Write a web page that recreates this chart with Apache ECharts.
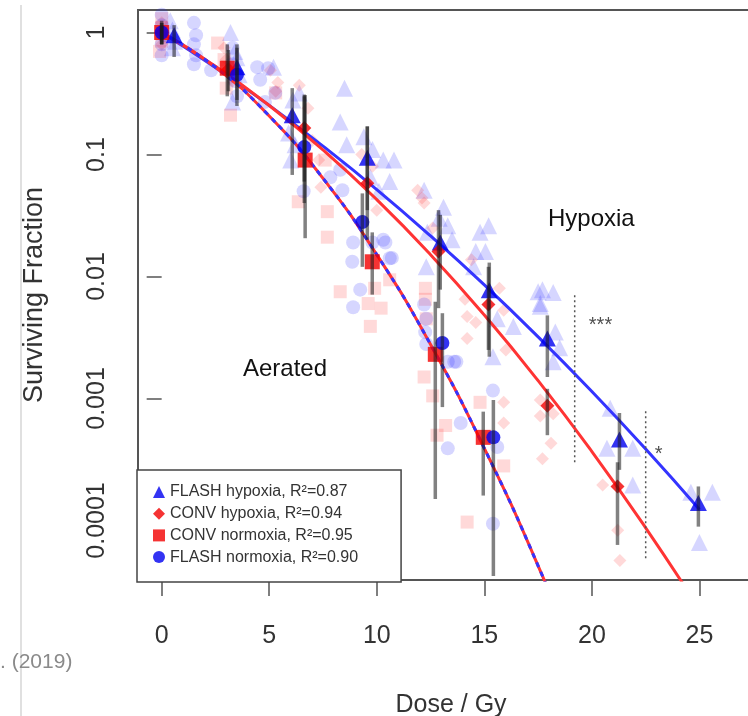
<!DOCTYPE html>
<html>
<head>
<meta charset="utf-8">
<script src="https://cdn.jsdelivr.net/npm/echarts@6/dist/echarts.min.js"></script>
<style>html,body{margin:0;padding:0;background:#fff}#c{width:748px;height:716px}</style>
</head>
<body>
<div id="c"></div>
<script>
const FONT = "'Liberation Sans', Arial, Helvetica, sans-serif";

// axis ticks
const xTicks = [0, 5, 10, 15, 20, 25];
const yTicks = [0.0001, 0.001, 0.01, 0.1, 1];
const yTickLabels = ['0.0001', '0.001', '0.01', '0.1', '1'];

// legend names
const names = ['FLASH hypoxia, R\u00b2=0.87', 'CONV hypoxia, R\u00b2=0.94', 'CONV normoxia, R\u00b2=0.95', 'FLASH normoxia, R\u00b2=0.90'];

// group means with error bars
const fhX  = [0.58, 3.5, 6.07, 9.56, 12.95, 15.23, 17.93, 21.28, 24.95];
const fhY  = [0.95, 0.52, 0.21, 0.094, 0.019, 0.0077, 0.0031, 0.00046, 0.000139];
const fhLo = [0.63, 0.28, 0.068, 0.035, 0.0078, 0.0022, 0.0015, 0.00026, 0.000089];
const fhHi = [1.15, 0.8, 0.35, 0.17, 0.032, 0.013, 0.0048, 0.00076, 0.00019];

const chX  = [0, 3.1, 6.63, 9.56, 12.87, 15.19, 17.93, 21.19];
const chY  = [1.0, 0.5, 0.165, 0.058, 0.016, 0.0059, 0.00087, 0.00019];
const chLo = [0.8, 0.33, 0.06, 0.02, 0.0055, 0.0025, 0.0005, 0.000063];
const chHi = [1.2, 0.72, 0.31, 0.17, 0.035, 0.012, 0.0012, 0.0003];

const cnX  = [0, 3.05, 6.67, 9.79, 12.72, 14.95];
const cnY  = [1.0, 0.51, 0.09, 0.0132, 0.0023, 0.00048];
const cnLo = [0.8, 0.3, 0.0206, 0.0071, 0.00015, 0.00016];
const cnHi = [1.25, 0.8, 0.307, 0.023, 0.0062, 0.00078];

const fnX  = [0, 3.5, 6.63, 9.33, 13.05, 15.42];
const fnY  = [1.0, 0.45, 0.115, 0.028, 0.00285, 0.00048];
const fnLo = [0.8, 0.25, 0.04, 0.012, 0.00085, 0.000035];
const fnHi = [1.2, 0.75, 0.3, 0.048, 0.005, 0.00097];

// fitted curves
const fitDose     = [0, 2.5, 5, 7.5, 10, 12.5, 15, 17.5, 20, 22.5, 25];
const fitFlashHyp = [1, 0.516, 0.253, 0.117, 0.0516, 0.0215, 0.00853, 0.0032, 0.00114, 0.000385, 0.000123];
const fitConvHyp  = [1, 0.528, 0.252, 0.109, 0.0427, 0.0151, 0.00483, 0.0014, 0.000367, 0.000087, 0.0000187];
const fitNormDose = [0, 2.5, 5, 7.5, 10, 12.5, 15, 17.5, 20];
const fitNormoxia = [1, 0.519, 0.207, 0.0638, 0.0151, 0.00277, 0.00039, 0.0000425, 0.00000356];

// individual replicates [dose, surviving fraction]
const repFlashHyp = [
  [0.4,1.25],[0.5,1.05],[0.6,0.85],[0.5,0.75],
  [3.2,1.0],[3.4,0.7],[3.5,0.62],[3.6,0.45],[3.3,0.27],
  [5.2,0.52],
  [6.1,0.28],[6.4,0.32],[5.9,0.15],[6.2,0.12],[6.0,0.09],
  [8.5,0.35],[8.3,0.185],[8.6,0.12],[9.4,0.14],[9.8,0.11],[10.3,0.09],[10.8,0.09],[10.6,0.06],[9.7,0.065],[10.1,0.05],
  [12.2,0.051],[12.35,0.023],[13.1,0.037],[13.5,0.02],[13.3,0.026],[12.3,0.012],[12.9,0.03],
  [14.8,0.023],[15.05,0.016],[14.5,0.012],[15.2,0.026],[14.6,0.016],[15.4,0.0022],[15.6,0.0045],[16.35,0.0039],
  [17.5,0.0075],[18.2,0.0074],[17.7,0.0078],[17.6,0.006],[18.2,0.002],[18.5,0.0026],[18.3,0.0035],[17.6,0.0057],
  [20.85,0.00083],[20.7,0.00039],[21.9,0.00039],[21.9,0.000195],
  [24.6,0.00017],[25.6,0.00017],[25.0,0.000066]
];
const repConvHyp = [
  [0,1.2],[0.1,0.9],[0,0.8],
  [2.9,0.75],[3.0,0.6],[3.3,0.4],
  [5.05,0.49],[5.3,0.33],[5.4,0.39],
  [6.4,0.37],[6.8,0.24],[7.0,0.13],[7.3,0.09],[7.4,0.054],
  [9.3,0.1],[9.8,0.08],[10.0,0.035],
  [11.9,0.051],[12.1,0.044],[12.2,0.04],[12.6,0.025],
  [14.4,0.0137],[14.1,0.0065],[14.6,0.0042],[14.2,0.0047],[14.2,0.0031],[15.7,0.008],[15.9,0.0053],[16.0,0.0025],[15.9,0.00093],[15.9,0.00063],
  [17.6,0.00097],[18.2,0.00075],[17.6,0.00072],[18.1,0.00043],[17.7,0.00032],
  [20.5,0.000195],[21.2,0.000083],[21.3,0.000047]
];
const repConvNorm = [
  [0,1.3],[0,1.1],[0,0.85],[-0.1,0.7],
  [2.6,0.82],[2.9,0.6],[3.0,0.35],[3.2,0.21],
  [5.3,0.32],
  [7.6,0.09],[6.35,0.041],[7.7,0.034],[7.7,0.021],
  [8.3,0.0075],[9.6,0.006],[9.7,0.0039],[9.9,0.008],[10.2,0.0055],[10.6,0.0094],
  [12.26,0.008],[12.26,0.0065],[12.3,0.0045],[12.2,0.0015],[12.6,0.00105],[13.2,0.0006],[12.8,0.0005],
  [14.8,0.00093],[15.9,0.00028],[14.2,0.000097]
];
const repFlashNorm = [
  [0,1.4],[0,1.15],[0.1,0.95],[0,0.8],[0,0.65],
  [1.5,1.2],[1.6,0.95],[1.5,0.8],[1.6,0.65],[1.5,0.55],
  [2.3,0.49],
  [3.3,0.75],[3.3,0.55],[3.4,0.4],[3.5,0.3],
  [4.44,0.52],[4.58,0.41],[4.95,0.51],[5.28,0.32],[4.8,0.27],
  [6.6,0.05],[7.84,0.065],[8.3,0.075],[8.4,0.051],
  [8.9,0.019],[9.8,0.019],[10.3,0.02],[10.7,0.0142],[8.86,0.0132],[9.23,0.0078],[8.9,0.0056],[10.6,0.0141],[10.4,0.019],
  [12.2,0.0059],[12.3,0.0045],[12.25,0.0035],[12.3,0.0028],[13.6,0.002],[13.3,0.002],[13.7,0.002],[13.9,0.00063],[13.3,0.00039],
  [15.4,0.00116],[15.6,0.0004],[15.4,0.000094]
];

// significance markers: [dose, low, high]
const sigLines = [[19.2, 0.0003, 0.0071], [22.5, 0.000049, 0.00079]];
const sigStars = [[20.4, 0.0040, '***'], [23.1, 0.00035, '*']];

const BLUE = '#0000f0', RED = '#f20000';
const BLUE_F = 'rgba(40,40,255,0.24)', RED_F = 'rgba(255,40,40,0.22)';

const pairs = (xs, ys) => xs.map((x, i) => [x, ys[i]]);
const bars = (xs, lo, hi) => xs.map((x, i) => [x, lo[i], hi[i]]);

function rep(name, data, symbol, size, color) {
  return { type: 'scatter', name, data, symbol, symbolSize: size, itemStyle: { color }, z: 1, silent: true };
}
function fit(name, xs, ys, color, extra) {
  return Object.assign({ type: 'line', name, data: pairs(xs, ys), smooth: true, showSymbol: false, symbol: 'none',
    lineStyle: { color, width: 3 }, z: 2, silent: true, clip: true }, extra || {});
}
function mean(name, xs, ys, symbol, size, color) {
  return { type: 'scatter', name, data: pairs(xs, ys), symbol, symbolSize: size, itemStyle: { color }, z: 3 };
}

const barData = [].concat(bars(fhX, fhLo, fhHi), bars(chX, chLo, chHi), bars(cnX, cnLo, cnHi), bars(fnX, fnLo, fnHi));

const chart = echarts.init(document.getElementById('c'), null, { renderer: 'canvas' });
chart.setOption({
  animation: false,
  backgroundColor: '#fff',
  textStyle: { fontFamily: FONT },
  grid: { left: 138, top: 10, width: 626, height: 570, show: true, borderColor: '#555', borderWidth: 2,
    backgroundColor: 'transparent', outerBoundsMode: 'none', containLabel: false },
  xAxis: {
    type: 'value', min: -1.1, max: 28,
    axisLine: { show: false }, splitLine: { show: false },
    axisTick: { show: true, customValues: xTicks, length: 16, lineStyle: { color: '#555', width: 1.5 } },
    axisLabel: { customValues: xTicks, fontSize: 25, color: '#333', margin: 44, fontFamily: FONT },
    name: 'Dose / Gy', nameLocation: 'middle', nameGap: 113,
    nameTextStyle: { fontSize: 25, color: '#333', fontFamily: FONT }
  },
  yAxis: {
    type: 'log', logBase: 10, min: 3.25e-5, max: 1.53,
    axisLine: { show: false }, splitLine: { show: false }, minorTick: { show: false },
    axisTick: { show: true, customValues: yTicks, length: 15, lineStyle: { color: '#555', width: 1.5 } },
    axisLabel: { customValues: yTicks, rotate: 90, fontSize: 25, color: '#333', margin: 28, fontFamily: FONT,
      formatter: v => { const i = yTicks.findIndex(t => Math.abs(Math.log10(t) - Math.log10(v)) < 1e-6); return i >= 0 ? yTickLabels[i] : ''; } },
    name: 'Surviving Fraction', nameLocation: 'middle', nameRotate: 90, nameGap: 90,
    nameTextStyle: { fontSize: 27, color: '#333', fontFamily: FONT }
  },
  legend: {
    orient: 'vertical', left: 137, top: 470,
    backgroundColor: '#fff', borderColor: '#444', borderWidth: 1.5,
    padding: [14, 43, 17, 16], itemWidth: 12, itemHeight: 12, itemGap: 5.7,
    textStyle: { fontSize: 16, color: '#333', fontFamily: FONT },
    selectedMode: false, z: 20,
    data: [
      { name: names[0], icon: 'triangle' },
      { name: names[1], icon: 'diamond' },
      { name: names[2], icon: 'rect' },
      { name: names[3], icon: 'circle' }
    ]
  },
  graphic: [
    { type: 'line', shape: { x1: 21, y1: 5, x2: 21, y2: 716 }, style: { stroke: '#d6d6d6', lineWidth: 1.5 }, z: 0 },
    { type: 'text', left: 548, top: 207, style: { text: 'Hypoxia', font: '24px ' + FONT, fill: '#111' } },
    { type: 'text', left: 243, top: 357, style: { text: 'Aerated', font: '24px ' + FONT, fill: '#111' } },
    { type: 'text', left: 0, top: 652, style: { text: '. (2019)', font: '21px ' + FONT, fill: '#8a8a8a' } }
  ],
  series: [
    rep('rFH', repFlashHyp, 'triangle', 17, BLUE_F),
    rep('rCH', repConvHyp, 'diamond', 13, RED_F),
    rep('rCN', repConvNorm, 'rect', 13, RED_F),
    rep('rFN', repFlashNorm, 'circle', 14, BLUE_F),
    fit('fFH', fitDose, fitFlashHyp, '#3434ff'),
    fit('fCH', fitDose, fitConvHyp, '#ff3434'),
    fit('fN1', fitNormDose, fitNormoxia, '#ff3434'),
    fit('fN2', fitNormDose, fitNormoxia, '#3434ff', { lineStyle: { color: '#3434ff', width: 3, type: [5, 5] } }),
    mean(names[0], fhX, fhY, 'triangle', [17, 16], BLUE),
    mean(names[1], chX, chY, 'diamond', 14, RED),
    mean(names[2], cnX, cnY, 'rect', 15, RED),
    mean(names[3], fnX, fnY, 'circle', 14, BLUE),
    {
      type: 'custom', name: 'errbars', data: barData, encode: { x: 0, y: [1, 2] }, z: 4, silent: true, clip: true,
      renderItem: (params, api) => {
        const a = api.coord([api.value(0), api.value(1)]);
        const b = api.coord([api.value(0), api.value(2)]);
        return { type: 'line', shape: { x1: a[0], y1: a[1], x2: b[0], y2: b[1] }, style: { stroke: 'rgba(25,25,25,0.55)', lineWidth: 3.5 } };
      }
    },
    {
      type: 'custom', name: 'siglines', data: sigLines, encode: { x: 0, y: [1, 2] }, z: 4, silent: true,
      renderItem: (params, api) => {
        const a = api.coord([api.value(0), api.value(1)]);
        const b = api.coord([api.value(0), api.value(2)]);
        return { type: 'line', shape: { x1: a[0], y1: a[1], x2: b[0], y2: b[1] }, style: { stroke: '#555', lineWidth: 1.5, lineDash: [2, 3] } };
      }
    },
    {
      type: 'scatter', name: 'stars', data: sigStars, symbolSize: 0, z: 5, silent: true,
      label: { show: true, position: 'inside', formatter: p => p.data[2], fontSize: 20, color: '#222', fontFamily: FONT }
    }
  ]
});
</script>
</body>
</html>
